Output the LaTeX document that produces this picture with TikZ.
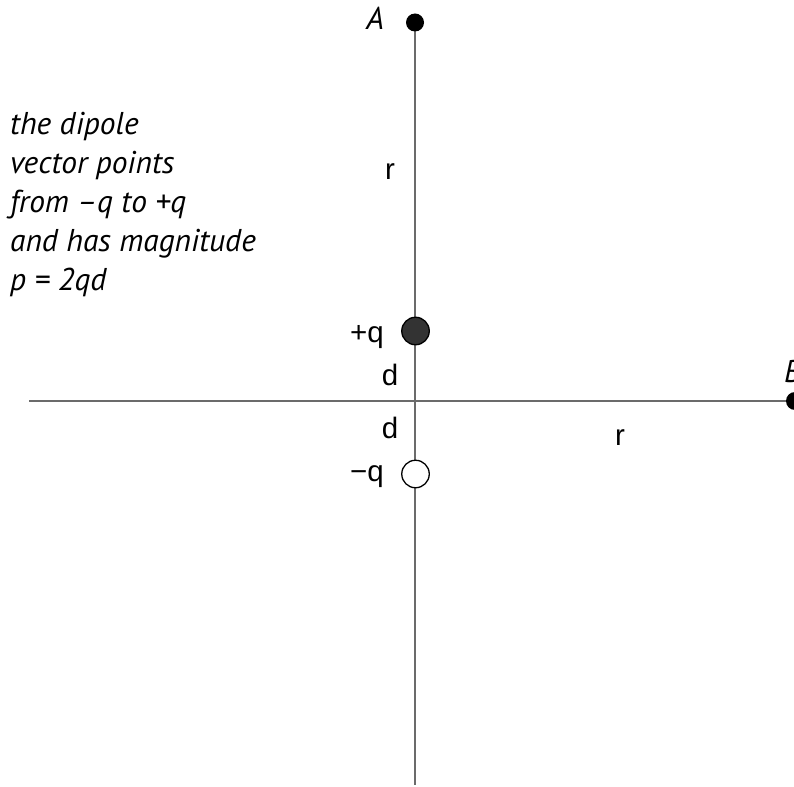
\documentclass[tikz,border=0pt]{standalone}
\usepackage{fontspec}
\setmainfont{Liberation Sans}
\newfontfamily\noteFont{PT Sans}
\begin{document}
\begin{tikzpicture}[x=1pt,y=-1pt,
  axis/.style={draw=black!58, line width=2pt},
  dot/.style={circle, fill=black, minimum size=18pt, inner sep=0pt},
  charge/.style={circle, draw=black, line width=1.3pt, minimum size=27.5pt, inner sep=0pt},
  lab/.style={font=\fontsize{29.5}{32}\selectfont, inner sep=0pt},
  ital/.style={font=\noteFont\itshape\fontsize{31.5}{39}\selectfont, inner sep=0pt}]
\useasboundingbox (0,0) rectangle (794,786);
\coordinate (top) at (415,22);
\coordinate (bot) at (415,785);
\coordinate (left) at (29,401);
\coordinate (right) at (794,401);
\path[axis] (top) -- (bot);
\path[axis] (left) -- (right);
\node[dot] (A) at (415,22.5) {};
\node[dot] (B) at (795,401) {};
\node[charge, fill=black!80] (pq) at (415.5,331) {};
\node[charge, fill=white] (mq) at (415.5,474) {};
\node[ital, anchor=base east] (Al) at (384,30) {A};
\node[ital, anchor=base west] (Bl) at (784,382) {B};
\node[lab, anchor=base] (r1) at (390,180) {r};
\node[lab, anchor=base east] (pql) at (384,342) {+q};
\node[lab, anchor=base] (d1) at (390,385) {d};
\node[lab, anchor=base] (d2) at (390,438) {d};
\node[lab, anchor=base east] (mql) at (384,481) {\char"2212 q};
\node[lab, anchor=base] (r2) at (620,445) {r};
\node[ital, anchor=north west, align=left] (note) at (10,112) {the dipole\\ vector points\\ from \char"2013 q to +q\\ and has magnitude\\ p = 2qd};
\end{tikzpicture}
\end{document}
